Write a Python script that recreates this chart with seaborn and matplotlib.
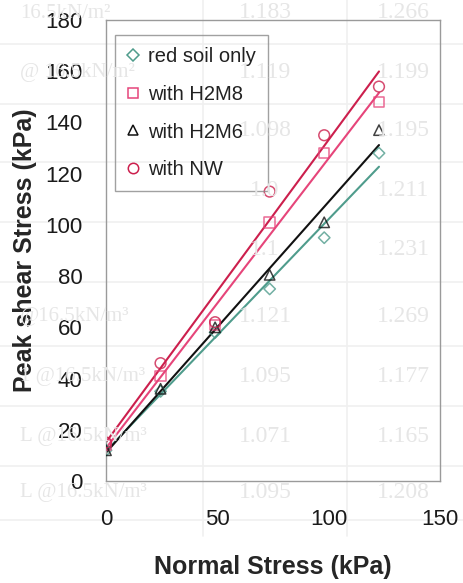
import numpy as np
import pandas as pd
import matplotlib
matplotlib.use("Agg")
import matplotlib.pyplot as plt
from matplotlib.lines import Line2D
import seaborn as sns

# Normal stress levels (kPa) and measured peak shear stress (kPa)
normal_stress = [0, 24.5, 49, 73.5, 98, 122.6]
red_soil_only = [12, 35, 58, 75, 95, 128]
with_h2m8 = [14, 41, 61, 101, 128, 148]
with_h2m6 = [12, 36, 60, 80.5, 101, 137]
with_nw = [15, 46, 62, 113, 135, 154]

series_names = ["red soil only", "with H2M8", "with H2M6", "with NW"]
series_values = [red_soil_only, with_h2m8, with_h2m6, with_nw]
series_colors = ["#4f9c8c", "#e6457a", "#111111", "#cc1f4d"]
series_markers = ["D", "s", "^", "o"]
marker_sizes = [34, 56, 56, 60]

# faint table printed on the page behind the chart
table_rows_y = [13, 73, 131, 190, 250, 316, 376, 436, 492]
table_mid = ["1.183", "1.119", "1.098", "1.0", "1.1", "1.121", "1.095", "1.071", "1.095"]
table_right = ["1.266", "1.199", "1.195", "1.211", "1.231", "1.269", "1.177", "1.165", "1.208"]
table_left = ["16.5kN/m\u00b2", "@ 16.5kN/m\u00b2", "", "", "", "@16.5kN/m\u00b3",
              "1 @16.5kN/m\u00b3", "L @16.5kN/m\u00b3", "L @16.5kN/m\u00b3"]

df = pd.DataFrame({
    "normal": np.tile(normal_stress, len(series_names)),
    "shear": np.concatenate(series_values),
    "series": np.repeat(series_names, len(normal_stress)),
})

sns.set_style("white")
plt.rcParams["font.family"] = ["Liberation Sans", "DejaVu Sans"]

W, H = 463, 583
fig = plt.figure(figsize=(W / 100, H / 100), dpi=100)
fig.patch.set_facecolor("white")

# background table (very light)
line_c = "#f0f0f0"
text_c = "#e6e6e6"
for yb in [44, 104, 162, 222, 282, 346, 406, 466, 520]:
    fig.add_artist(Line2D([0, 1], [1 - yb / H, 1 - yb / H], color=line_c, lw=1.2, zorder=0))
for xb in [203, 347]:
    fig.add_artist(Line2D([xb / W, xb / W], [0.08, 1], color=line_c, lw=1.2, zorder=0))
for yr, lt, mt, rt in zip(table_rows_y, table_left, table_mid, table_right):
    fig.text(20 / W, 1 - yr / H, lt, color=text_c, fontsize=15, family="Liberation Serif",
             va="center", ha="left", zorder=0)
    fig.text(265 / W, 1 - yr / H, mt, color=text_c, fontsize=17, family="Liberation Serif",
             va="center", ha="center", zorder=0)
    fig.text(403 / W, 1 - yr / H, rt, color=text_c, fontsize=17, family="Liberation Serif",
             va="center", ha="center", zorder=0)

ax = fig.add_axes([106 / W, 1 - 481 / H, (440 - 106) / W, (481 - 20) / H])
ax.set_facecolor("none")

for name, color, marker, ms in zip(series_names, series_colors, series_markers, marker_sizes):
    sub = df[df["series"] == name]
    sns.regplot(data=sub, x="normal", y="shear", ax=ax, ci=None, truncate=True,
                marker=marker,
                scatter_kws=dict(s=ms, facecolors="none", edgecolors=color, linewidths=1.1, zorder=3),
                line_kws=dict(color=color, lw=1.5, zorder=2))

ax.set_xlim(0, 150)
ax.set_ylim(0, 180)
ax.set_xticks([0, 50, 100, 150])
ax.set_yticks(range(0, 181, 20))
for s in ax.spines.values():
    s.set_color("#9a9a9a")
    s.set_linewidth(1.0)
ax.tick_params(axis="both", direction="out", length=4, width=1, color="#9a9a9a",
               labelsize=16, labelcolor="#1a1a1a")
ax.tick_params(axis="x", pad=16)
ax.tick_params(axis="y", pad=13)

ax.set_xlabel("Normal Stress (kPa)", fontsize=18, fontweight="bold", labelpad=18)
ax.set_ylabel("Peak shear Stress (kPa)", fontsize=18, fontweight="bold", labelpad=6)

handles = [Line2D([], [], ls="none", marker=m, markersize=7.5 if m != "D" else 6,
                  markerfacecolor="none", markeredgecolor=c, markeredgewidth=1.1)
           for m, c in zip(series_markers, series_colors)]
leg = ax.legend(handles, series_names, loc="upper left",
                bbox_to_anchor=(9 / 334, 1 - 15 / 461),
                frameon=True, fancybox=False, fontsize=14.5, handlelength=0.6,
                handletextpad=0.45, labelspacing=0.93, borderpad=0.6, borderaxespad=0)
leg.get_frame().set_edgecolor("#8a8a8a")
leg.get_frame().set_linewidth(1.0)
leg.get_frame().set_facecolor("none")
for t in leg.get_texts():
    t.set_color("#222222")

fig.savefig("out.png", dpi=100)
